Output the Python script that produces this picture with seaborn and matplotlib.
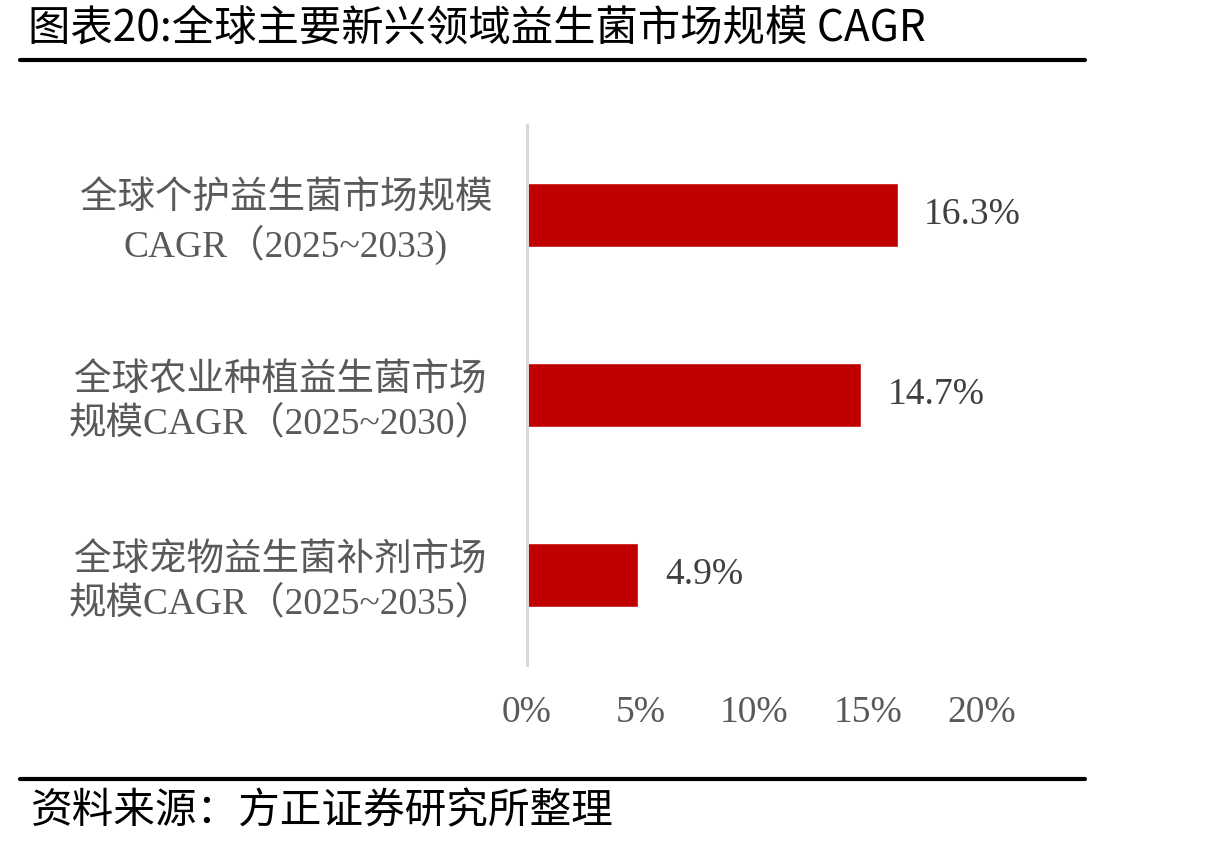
import matplotlib
matplotlib.use("Agg")
import pandas as pd
import seaborn as sns
import matplotlib.pyplot as plt
from matplotlib.lines import Line2D

categories = [
    "全球个护益生菌市场规模\nCAGR（2025~2033)",
    "全球农业种植益生菌市场\n规模CAGR（2025~2030）",
    "全球宠物益生菌补剂市场\n规模CAGR（2025~2035）",
]
cagr = [16.3, 14.7, 4.9]
x_ticks = [0, 5, 10, 15, 20]

df = pd.DataFrame({"category": categories, "cagr": cagr})

sns.set_style("white")
plt.rcParams["font.family"] = ["Liberation Serif", "Noto Sans CJK SC", "DejaVu Sans"]

fig = plt.figure(figsize=(12.18, 8.5), dpi=100)
ax = fig.add_axes([0.4327, 0.2176, 0.3735, 0.6353])

sns.barplot(data=df, x="cagr", y="category", orient="h",
            color="#C00000", saturation=1, width=0.355, ax=ax)

ax.set_xlim(0, 20)
ax.set_xticks(x_ticks)
ax.set_xticklabels([f"{t}%" for t in x_ticks])
ax.set_xlabel("")
ax.set_ylabel("")

ax.bar_label(ax.containers[0], labels=[f"{v}%" for v in cagr],
             padding=19, fontsize=27, color="#404040")

for s in ["top", "right", "bottom"]:
    ax.spines[s].set_visible(False)
ax.spines["left"].set_color("#d9d9d9")
ax.spines["left"].set_linewidth(2.2)

ax.tick_params(axis="x", length=0, pad=22, labelsize=27, labelcolor="#595959")
ax.tick_params(axis="y", length=0, pad=25, labelsize=27, labelcolor="#595959")
for t in ax.get_yticklabels():
    t.set_multialignment("center")
    t.set_linespacing(1.25)

# title, rules and source note
fig.text(0.023, 0.967, "图表20:全球主要新兴领域益生菌市场规模 CAGR",
         fontsize=30.5, color="black", va="center", ha="left",
         family=["Noto Sans CJK SC", "DejaVu Sans"])
fig.add_artist(Line2D([0.0164, 0.8908], [0.9294, 0.9294],
                      transform=fig.transFigure, color="black", linewidth=3))
fig.add_artist(Line2D([0.0164, 0.8908], [0.0835, 0.0835],
                      transform=fig.transFigure, color="black", linewidth=3))
fig.text(0.025, 0.0447, "资料来源：方正证券研究所整理",
         fontsize=30, color="black", va="center", ha="left",
         family=["Noto Sans CJK SC", "DejaVu Sans"])

fig.savefig("out.png", dpi=100)
